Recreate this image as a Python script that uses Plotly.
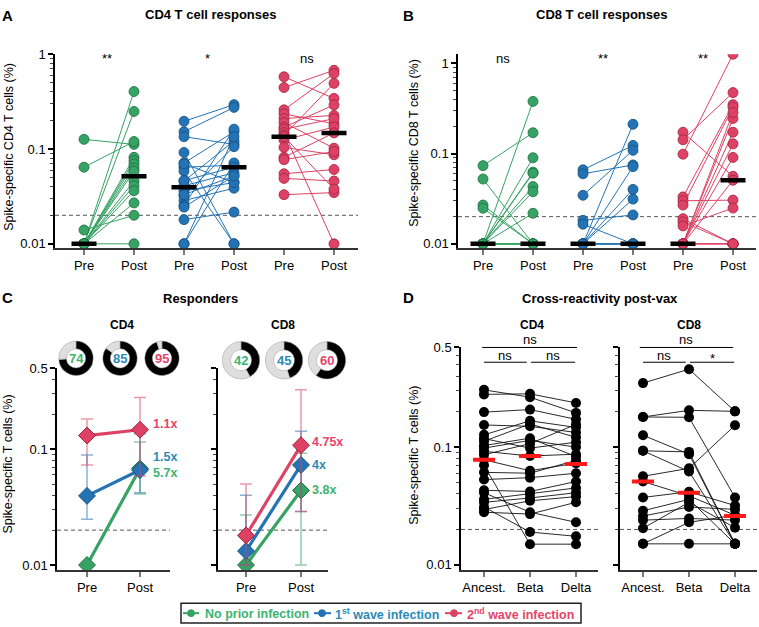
import math
import plotly.graph_objects as go

W, H = 759, 627
def px(x): return x / W
def py(y): return 1 - y / H

# ------------------------------------------------------------------ data
A_CATS = ["Pre", "Post", "Pre", "Post", "Pre", "Post"]
B_CATS = ["Pre", "Post", "Pre", "Post", "Pre", "Post"]

# Panel A - CD4 responses (paired pre/post per donor)
a_green_pre = [0.1265, 0.0643, 0.014, 0.01, 0.01, 0.01, 0.01, 0.01, 0.01, 0.01, 0.01, 0.01, 0.01, 0.01, 0.01]
a_green_post = [0.112, 0.120, 0.020, 0.404, 0.249, 0.0817, 0.0754, 0.0697, 0.0633, 0.0585, 0.046, 0.0409, 0.0363, 0.027, 0.01]
a_blue_pre = [0.196, 0.152, 0.135, 0.092, 0.0713, 0.0643, 0.0585, 0.046, 0.041, 0.0363, 0.0322, 0.0286, 0.0254,
              0.0244, 0.018, 0.01, 0.01, 0.0465, 0.070, 0.033]
a_blue_post = [0.294, 0.275, 0.112, 0.01, 0.152, 0.0675, 0.01, 0.1216, 0.0562, 0.0443, 0.106, 0.0386, 0.162,
               0.052, 0.0216, 0.135, 0.0713, 0.0643, 0.0443, 0.052]
a_red_pre = [0.578, 0.445, 0.259, 0.235, 0.210, 0.190, 0.170, 0.162, 0.149, 0.140, 0.1245, 0.104, 0.0817,
             0.0772, 0.0548, 0.049, 0.033, 0.135]
a_red_post = [0.342, 0.677, 0.626, 0.185, 0.226, 0.102, 0.292, 0.209, 0.01, 0.493, 0.171, 0.087, 0.148,
              0.094, 0.0608, 0.046, 0.0347, 0.0378]
a_medians = [0.01, 0.0515, 0.0395, 0.0643, 0.135, 0.148]
a_sig = ["**", "*", "ns"]

# Panel B - CD8 responses
b_green_pre = [0.0735, 0.0522, 0.0269, 0.0248, 0.01, 0.01, 0.01, 0.01, 0.01, 0.01, 0.01, 0.01, 0.01, 0.01, 0.01, 0.01]
b_green_post = [0.170, 0.01, 0.01, 0.01, 0.378, 0.0898, 0.0622, 0.0606, 0.0431, 0.0378, 0.0218, 0.01, 0.01, 0.01, 0.01, 0.01]
b_blue_pre = [0.066, 0.0597, 0.0345, 0.0182, 0.0165, 0.01, 0.01, 0.01, 0.01, 0.01, 0.01, 0.01, 0.01, 0.01]
b_blue_post = [0.123, 0.0748, 0.1086, 0.0209, 0.01, 0.211, 0.01, 0.0717, 0.0401, 0.0313, 0.01, 0.01, 0.01, 0.01]
b_red_pre = [0.172, 0.142, 0.0984, 0.0331, 0.030, 0.0269, 0.019, 0.0175, 0.0158, 0.01, 0.01, 0.01, 0.01, 0.01,
             0.01, 0.01, 0.01, 0.01]
b_red_post = [0.0559, 0.473, 1.26, 0.348, 0.0305, 0.326, 0.01, 0.01, 0.0249, 0.245, 0.172, 0.128, 0.0906,
              0.0506, 0.01, 0.01, 0.285, 0.01]
b_medians = [0.01, 0.01, 0.01, 0.01, 0.01, 0.0506]
b_sig = ["ns", "**", "**"]

# Panel C - responders (median with IQR)
C_CATS = ["Pre", "Post"]
c4_green = [0.01, 0.068];  c4_green_lo = [0.0098, 0.041]; c4_green_hi = [0.0105, 0.115]
c4_blue = [0.0395, 0.066]; c4_blue_lo = [0.0248, 0.042];  c4_blue_hi = [0.089, 0.136]
c4_red = [0.131, 0.147];   c4_red_lo = [0.073, 0.059];    c4_red_hi = [0.182, 0.279]
c8_green = [0.01, 0.044];  c8_green_lo = [0.01, 0.01];    c8_green_hi = [0.027, 0.092]
c8_blue = [0.0132, 0.073]; c8_blue_lo = [0.01, 0.029];    c8_blue_hi = [0.040, 0.143]
c8_red = [0.018, 0.108];   c8_red_lo = [0.01, 0.029];     c8_red_hi = [0.050, 0.326]
fold4 = ["5.7x", "1.5x", "1.1x"]      # green, blue, red
fold8 = ["3.8x", "4x", "4.75x"]
donut4 = [74, 85, 95]
donut8 = [42, 45, 60]

# Panel D - cross-reactivity post-vax
D_CATS = ["Ancest.", "Beta", "Delta"]
d4_anc = [0.306, 0.280, 0.198, 0.154, 0.127, 0.118, 0.112, 0.103, 0.098, 0.092, 0.086, 0.078, 0.070, 0.061,
          0.053, 0.043, 0.041, 0.036, 0.034, 0.031, 0.0295, 0.028]
d4_beta = [0.265, 0.283, 0.208, 0.150, 0.167, 0.098, 0.157, 0.119, 0.114, 0.084, 0.107, 0.063, 0.015, 0.060,
           0.055, 0.042, 0.028, 0.040, 0.037, 0.019, 0.035, 0.027]
d4_delta = [0.195, 0.237, 0.172, 0.133, 0.147, 0.110, 0.121, 0.083, 0.100, 0.087, 0.156, 0.073, 0.015, 0.077,
            0.060, 0.051, 0.023, 0.045, 0.041, 0.0175, 0.038, 0.034]
d8_anc = [0.349, 0.180, 0.180, 0.126, 0.093, 0.093, 0.0565, 0.051, 0.0374, 0.0288, 0.026, 0.024, 0.0205, 0.0151, 0.0151]
d8_beta = [0.458, 0.205, 0.179, 0.087, 0.091, 0.062, 0.066, 0.0386, 0.0417, 0.036, 0.031, 0.0248, 0.034, 0.023, 0.0151]
d8_delta = [0.201, 0.201, 0.0374, 0.0151, 0.0151, 0.0151, 0.153, 0.0264, 0.0319, 0.0151, 0.0296, 0.024, 0.0207, 0.0264, 0.0151]
d4_medians = [0.078, 0.084, 0.072]
d8_medians = [0.051, 0.041, 0.026]

THRESHOLD = 0.02
LEGEND = ["No prior infection", "1<sup>st</sup> wave infection", "2<sup>nd</sup> wave infection"]

# ------------------------------------------------------------------ styles
GREEN, GREEN_D, GREEN_T = "#36a263", "#1d6e41", "#3cb371"
BLUE, BLUE_D, BLUE_T = "#2474b5", "#134f80", "#2b8ab8"
RED, RED_D, RED_T = "#dd4264", "#9e2440", "#e8446a"
GREEN_E, BLUE_E, RED_E = "rgba(54,162,99,0.55)", "rgba(36,116,181,0.55)", "rgba(221,66,100,0.55)"
FONT = "Arial, Liberation Sans, sans-serif"

fig = go.Figure()

# axis geometry (pixels)
geom = {
    "": dict(x=(55, 358), y=(48, 245), xr=[-0.58, 5.48], yr=[-2.045, 0.0]),
    "2": dict(x=(458, 756), y=(48, 245), xr=[-0.5, 5.46], yr=[-2.047, 0.10]),
    "3": dict(x=(57, 170), y=(367, 572), xr=[-0.566, 1.566], yr=[-2.042, math.log10(0.5)]),
    "4": dict(x=(218, 328), y=(367, 572), xr=[-0.509, 1.491], yr=[-2.042, math.log10(0.5)]),
    "5": dict(x=(461, 598), y=(346, 572), xr=[-0.5, 2.478], yr=[-2.042, math.log10(0.7)]),
    "6": dict(x=(620, 757), y=(346, 572), xr=[-0.5, 2.478], yr=[-2.042, math.log10(0.7)]),
}

minor_ab = [0.02, 0.03, 0.04, 0.05, 0.06, 0.07, 0.08, 0.09, 0.2, 0.3, 0.4, 0.5, 0.6, 0.7, 0.8, 0.9]
minor_c = [0.02, 0.03, 0.04, 0.05, 0.06, 0.07, 0.08, 0.09, 0.2, 0.3, 0.4]
minor_d = [0.02, 0.03, 0.04, 0.05, 0.06, 0.07, 0.08, 0.09, 0.2, 0.3, 0.4, 0.5, 0.6]
ytick = {
    "": ([0.01, 0.1, 1], ["0.01", "0.1", "1"], minor_ab, True),
    "2": ([0.01, 0.1, 1], ["0.01", "0.1", "1"], minor_ab, True),
    "3": ([0.01, 0.1, 0.5], ["0.01", "0.1", "0.5"], minor_c, True),
    "4": ([0.01, 0.1, 0.5], None, minor_c, False),
    "5": ([0.01, 0.1, 0.7], ["0.01", "0.1", "0.5"], minor_d, True),
    "6": ([0.01, 0.1, 0.7], None, minor_d, False),
}
xcats = {"": A_CATS, "2": B_CATS, "3": C_CATS, "4": C_CATS, "5": D_CATS, "6": D_CATS}

layout_axes = {}
for k, g in geom.items():
    tv, tt, mv, show = ytick[k]
    layout_axes["xaxis" + k] = dict(
        domain=[px(g["x"][0]), px(g["x"][1])], range=g["xr"], anchor="y" + k,
        tickmode="array", tickvals=list(range(len(xcats[k]))), ticktext=xcats[k],
        ticks="outside", ticklen=5, tickwidth=2, tickcolor="#777",
        showline=True, linecolor="#333", linewidth=1.5, showgrid=False, zeroline=False,
        tickfont=dict(size=13, color="black", family=FONT), fixedrange=True)
    yd = dict(
        domain=[py(g["y"][1]), py(g["y"][0])], range=g["yr"], type="log", anchor="x" + k,
        tickmode="array", tickvals=tv, showticklabels=show,
        ticks="outside", ticklen=5, tickwidth=1.5, tickcolor="black",
        minor=dict(tickmode="array", tickvals=mv, ticks="outside", ticklen=3, tickwidth=1,
                   tickcolor="#444", showgrid=False),
        showline=True, linecolor="black", linewidth=1.5, showgrid=False, zeroline=False,
        tickfont=dict(size=13, color="black", family=FONT), fixedrange=True)
    if tt is not None:
        yd["ticktext"] = tt
    layout_axes["yaxis" + k] = yd


def ax(k):
    return ("x" + k, "y" + k)


# threshold dashed lines (drawn first)
for k, g in geom.items():
    xa, ya = ax(k)
    fig.add_trace(go.Scatter(x=g["xr"], y=[THRESHOLD, THRESHOLD], mode="lines", xaxis=xa, yaxis=ya,
                             line=dict(color="#555", width=1, dash="4px,3px"), hoverinfo="skip"))


def paired(k, i0, pre, post, col, dcol):
    xa, ya = ax(k)
    xs, ys = [], []
    for a, b in zip(pre, post):
        xs += [i0, i0 + 1, None]
        ys += [a, b, None]
    fig.add_trace(go.Scatter(x=xs, y=ys, mode="lines", xaxis=xa, yaxis=ya,
                             line=dict(color=col, width=1), hoverinfo="skip"))
    fig.add_trace(go.Scatter(x=[i0] * len(pre) + [i0 + 1] * len(post), y=list(pre) + list(post),
                             mode="markers", xaxis=xa, yaxis=ya,
                             marker=dict(size=10, color=col, line=dict(color=dcol, width=0.8))))


def medians(k, meds, color, half, width):
    xa, ya = ax(k)
    xs, ys = [], []
    for i, m in enumerate(meds):
        xs += [i - half, i + half, None]
        ys += [m, m, None]
    fig.add_trace(go.Scatter(x=xs, y=ys, mode="lines", xaxis=xa, yaxis=ya,
                             line=dict(color=color, width=width), hoverinfo="skip"))


# Panel A
paired("", 0, a_green_pre, a_green_post, GREEN, GREEN_D)
paired("", 2, a_blue_pre, a_blue_post, BLUE, BLUE_D)
paired("", 4, a_red_pre, a_red_post, RED, RED_D)
medians("", a_medians, "black", 0.25, 4.5)
# Panel B
paired("2", 0, b_green_pre, b_green_post, GREEN, GREEN_D)
paired("2", 2, b_blue_pre, b_blue_post, BLUE, BLUE_D)
paired("2", 4, b_red_pre, b_red_post, RED, RED_D)
medians("2", b_medians, "black", 0.25, 4.5)


# Panel C
def resp(k, vals, lo, hi, col, dcol, ecol):
    xa, ya = ax(k)
    fig.add_trace(go.Scatter(
        x=[0, 1], y=vals, mode="lines+markers", xaxis=xa, yaxis=ya,
        line=dict(color=col, width=3.2),
        marker=dict(symbol="diamond", size=13, color=col, line=dict(color=dcol, width=1)),
        error_y=dict(type="data", symmetric=False,
                     array=[h - v for h, v in zip(hi, vals)],
                     arrayminus=[v - l for v, l in zip(vals, lo)],
                     color=ecol, thickness=1.5, width=6)))


resp("3", c4_green, c4_green_lo, c4_green_hi, GREEN, GREEN_D, GREEN_E)
resp("3", c4_blue, c4_blue_lo, c4_blue_hi, BLUE, BLUE_D, BLUE_E)
resp("3", c4_red, c4_red_lo, c4_red_hi, RED, RED_D, RED_E)
resp("4", c8_green, c8_green_lo, c8_green_hi, GREEN, GREEN_D, GREEN_E)
resp("4", c8_blue, c8_blue_lo, c8_blue_hi, BLUE, BLUE_D, BLUE_E)
resp("4", c8_red, c8_red_lo, c8_red_hi, RED, RED_D, RED_E)


# Panel D
def triple(k, a, b, c):
    xa, ya = ax(k)
    xs, ys = [], []
    for v1, v2, v3 in zip(a, b, c):
        xs += [0, 1, 2, None]
        ys += [v1, v2, v3, None]
    fig.add_trace(go.Scatter(x=xs, y=ys, mode="lines", xaxis=xa, yaxis=ya,
                             line=dict(color="#111", width=0.9), hoverinfo="skip"))
    fig.add_trace(go.Scatter(x=[0] * len(a) + [1] * len(b) + [2] * len(c), y=list(a) + list(b) + list(c),
                             mode="markers", xaxis=xa, yaxis=ya,
                             marker=dict(size=10, color="black")))


triple("5", d4_anc, d4_beta, d4_delta)
triple("6", d8_anc, d8_beta, d8_delta)
medians("5", d4_medians, "#ff1a1a", 0.24, 4)
medians("6", d8_medians, "#ff1a1a", 0.24, 4)

# donuts
donut_c4 = [(76, 357), (120, 357), (162, 357)]
donut_c8 = [(241, 359), (284, 359), (327, 359)]
ann_list = []
tcols = [GREEN_T, BLUE_T, RED_T]
for vals, centers, r in ((donut4, donut_c4, 17.5), (donut8, donut_c8, 19)):
    for v, (cx, cy), tc in zip(vals, centers, tcols):
        fig.add_trace(go.Pie(values=[v, 100 - v], sort=False, direction="clockwise", rotation=0,
                             hole=0.56, textinfo="none", hoverinfo="skip", showlegend=False,
                             marker=dict(colors=["black", "#dedede"], line=dict(color="#999", width=0.5)),
                             domain=dict(x=[px(cx - r), px(cx + r)], y=[py(cy + r), py(cy - r)])))
        ann_list.append(dict(text=f"<b>{v}</b>", x=px(cx), y=py(cy), xref="paper", yref="paper",
                             showarrow=False, font=dict(size=13, color=tc, family=FONT),
                             xanchor="center", yanchor="middle"))


def A(text, x, y, size=13, color="black", bold=False, xanchor="center", angle=0):
    if bold:
        text = f"<b>{text}</b>"
    ann_list.append(dict(text=text, x=px(x), y=py(y), xref="paper", yref="paper", showarrow=False,
                         font=dict(size=size, color=color, family=FONT), xanchor=xanchor,
                         yanchor="middle", textangle=angle))


# panel letters & titles
A("A", 7, 9, 15, bold=True)
A("B", 408, 9, 15, bold=True)
A("C", 7, 295, 15, bold=True)
A("D", 408, 295, 15, bold=True)
A("CD4 T cell responses", 211, 8, 13, bold=True)
A("CD8 T cell responses", 602, 8, 13, bold=True)
A("Responders", 200, 296, 13, bold=True)
A("Cross-reactivity post-vax", 600, 296, 13, bold=True)
A("CD4", 122, 323, 12, bold=True)
A("CD8", 283, 323, 12, bold=True)
A("CD4", 532, 323, 12, bold=True)
A("CD8", 689, 323, 12, bold=True)
A("Spike-specific CD4 T cells (%)", 9, 142, 12.5, angle=-90)
A("Spike-specific CD8 T cells (%)", 414, 138, 12.5, angle=-90)
A("Spike-specific T cells (%)", 8, 465, 12.5, angle=-90)
A("Spike-specific T cells (%)", 414, 455, 12.5, angle=-90)

# significance for A and B
for i, s in enumerate(a_sig):
    ann_list.append(dict(text=s, x=2 * i + 0.5, y=py(43), xref="x", yref="paper", showarrow=False,
                         xshift=-2, font=dict(size=13, color="black", family=FONT)))
for i, s in enumerate(b_sig):
    ann_list.append(dict(text=s, x=2 * i + 0.5, y=py(43), xref="x2", yref="paper", showarrow=False,
                         xshift=-5, font=dict(size=13, color="black", family=FONT)))

# fold-change labels in C
fold_y4 = [474, 457, 424]
fold_y8 = [491, 465, 442]
for t, yy, c in zip(fold4, fold_y4, tcols):
    ann_list.append(dict(text=f"<b>{t}</b>", x=1, xref="x3", xshift=11, y=py(yy), yref="paper",
                         xanchor="left", yanchor="middle", showarrow=False,
                         font=dict(size=12.5, color=c, family=FONT)))
for t, yy, c in zip(fold8, fold_y8, tcols):
    ann_list.append(dict(text=f"<b>{t}</b>", x=1, xref="x4", xshift=9, y=py(yy), yref="paper",
                         xanchor="left", yanchor="middle", showarrow=False,
                         font=dict(size=12.5, color=c, family=FONT)))

# brackets in D
shapes = []
def bracket(xref, x0, x1, y, text, ty, size=13):
    shapes.append(dict(type="line", xref=xref, yref="paper", x0=x0, x1=x1, y0=py(y), y1=py(y),
                       line=dict(color="black", width=1)))
    ann_list.append(dict(text=text, x=(x0 + x1) / 2, xref=xref, y=py(ty), yref="paper", showarrow=False,
                         font=dict(size=size, color="black", family=FONT)))

bracket("x5", -0.04, 2.02, 346, "ns", 338)
bracket("x5", 0.0, 0.93, 361, "ns", 354)
bracket("x5", 1.02, 1.98, 361, "ns", 354)
bracket("x6", -0.07, 1.96, 346, "ns", 338)
bracket("x6", 0.0, 0.93, 361, "ns", 354)
bracket("x6", 1.02, 1.98, 361, "*", 357)

# legend (drawn manually)
shapes.append(dict(type="rect", xref="paper", yref="paper", x0=px(181), x1=px(581), y0=py(626), y1=py(606),
                   line=dict(color="#222", width=1.5)))
leg_items = [(183, 199, 191, 203, GREEN, GREEN_T), (314, 331, 322, 333, BLUE, BLUE_T),
             (445, 462, 454, 465, RED, RED_T)]
for (l0, l1, cxm, tx, mc, tc), name in zip(leg_items, LEGEND):
    shapes.append(dict(type="line", xref="paper", yref="paper", x0=px(l0), x1=px(l1), y0=py(616), y1=py(616),
                       line=dict(color=mc, width=2)))
    shapes.append(dict(type="circle", xref="paper", yref="paper", x0=px(cxm - 3.5), x1=px(cxm + 3.5),
                       y0=py(619.5), y1=py(612.5), fillcolor=mc, line=dict(color=mc, width=1)))
    ann_list.append(dict(text=f"<b>{name}</b>", x=px(tx), y=py(617), xref="paper", yref="paper",
                         xanchor="left", yanchor="middle", showarrow=False,
                         font=dict(size=12.5, color=tc, family=FONT)))

fig.update_layout(
    width=W, height=H, margin=dict(l=0, r=0, t=0, b=0), autosize=False,
    paper_bgcolor="white", plot_bgcolor="white", showlegend=False,
    font=dict(family=FONT, color="black"),
    annotations=ann_list, shapes=shapes, **layout_axes)

fig.write_html("out.html", config={"displayModeBar": False},
               post_script="document.body.style.margin='0px';document.body.style.padding='0px';"
                           "document.documentElement.style.overflow='hidden';")
